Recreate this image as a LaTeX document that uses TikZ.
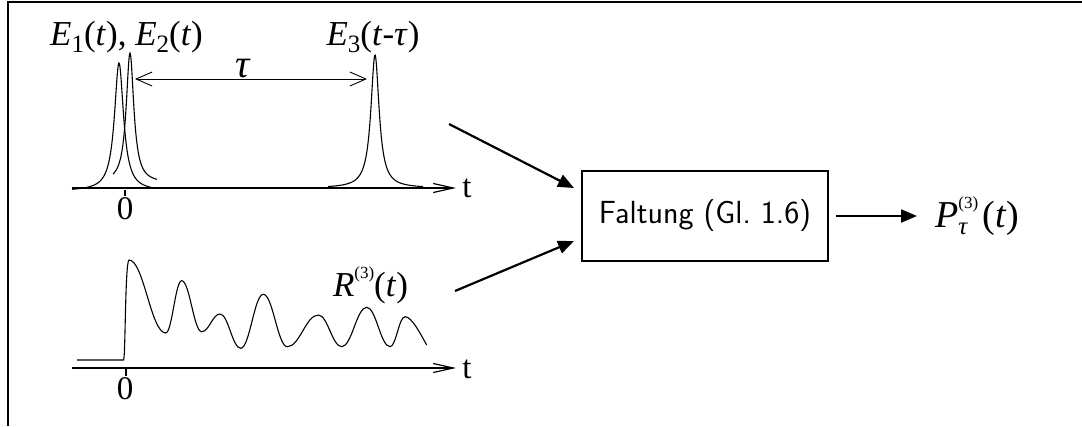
\documentclass[tikz,border=0pt]{standalone}
\usepackage{graphicx}
\usepackage{fontspec}
\newfontfamily\tms{Liberation Serif}
\usetikzlibrary{arrows.meta}
\newcommand{\mysub}[1]{\raisebox{-0.2em}{\fontsize{25}{25}\selectfont #1}}
\newcommand{\mysupr}[1]{\raisebox{0.5em}{\fontsize{17}{17}\selectfont #1}}
\newcommand{\lbl}[2][35]{{\fontsize{#1}{38}\tms #2}}
\tikzset{
  frame/.style={line width=1.8pt},
  axis/.style={line width=1.4pt,-{Straight Barb[length=20pt,width=9pt,line width=1.2pt]}},
  curve/.style={line width=1.1pt},
  tauarrow/.style={line width=0.9pt,{Straight Barb[length=16pt,width=14pt]}-{Straight Barb[length=16pt,width=14pt]}},
  conn/.style={line width=2.2pt,-{Triangle[length=16pt,width=13pt]}},
  lab/.style={inner sep=0pt,anchor=base},
  boxnode/.style={draw,line width=2pt,minimum width=246pt,minimum height=90pt,inner sep=0pt,
    font=\sffamily\fontsize{32}{36}\selectfont}
}
\begin{document}
\begin{tikzpicture}[x=1pt,y=-1pt]
\useasboundingbox (0,0) rectangle (1082,426);
% frame
\draw[frame] (8,426) -- (8,2) -- (1082,2);

% ---- top panel ----
\coordinate (ta0) at (72,188);
\coordinate (ta1) at (456,188);
\draw[axis] (ta0) -- (ta1);
\node[lab] (tt) at (467,197) {\lbl[33]{t}};
\draw[line width=1.2pt] (125,190) -- (125,196);
\node[lab] (z1) at (125,219) {\lbl[33]{0}};
% pulses (Lorentzian)
\draw[curve] plot[domain=72:153,samples=160,smooth] (\x,{191-128/(1+((\x-119)/5.5)^2)});
\draw[curve] plot[domain=113:157,samples=120,smooth] (\x,{183-130/(1+((\x-130)/4.6)^2)});
\draw[curve] plot[domain=328:423,samples=160,smooth] (\x,{188-133/(1+((\x-375)/5)^2)});
% tau
\coordinate (tl) at (135,79);
\coordinate (tr) at (367,79);
\draw[tauarrow] (tl) -- (tr);
\node[lab] (tau) at (243,77) {\lbl[40]{\textit{τ}}};
\node[lab] (e12) at (126.5,45) {\lbl{\textit{E}\mysub{1}(\textit{t}), \textit{E}\mysub{2}(\textit{t})}};
\node[lab] (e3) at (373,45) {\lbl{\textit{E}\mysub{3}(\textit{t}-\textit{τ})}};

% ---- bottom panel ----
\coordinate (ba0) at (72,368);
\coordinate (ba1) at (456,368);
\draw[axis] (ba0) -- (ba1);
\node[lab] (tb) at (467,378) {\lbl[33]{t}};
\draw[line width=1.2pt] (126,368) -- (126,376);
\node[lab] (z2) at (125,399) {\lbl[33]{0}};
\draw[curve] (77,360) -- (123.5,360) .. controls (125.5,360) and (125,262) .. (129,260)
  .. controls (143.7,260) and (151,333) .. (165.7,333)
  .. controls (172.1,333) and (175.3,280.7) .. (181.7,280.7)
  .. controls (189.7,280.7) and (193.7,331.7) .. (201.7,331.7)
  .. controls (209,331.7) and (212.7,314) .. (220,314)
  .. controls (228.3,314) and (232.4,348.3) .. (240.7,348.3)
  .. controls (249.7,348.3) and (254.3,294.3) .. (263.3,294.3)
  .. controls (272.9,294.3) and (277.7,346.7) .. (287.3,346.7)
  .. controls (299.7,346.7) and (305.9,315) .. (318.3,315)
  .. controls (327.7,315) and (332.3,346.7) .. (341.7,346.7)
  .. controls (351.7,346.7) and (356.7,307.3) .. (366.7,307.3)
  .. controls (376,307.3) and (380.7,346.7) .. (390,346.7)
  .. controls (396,346.7) and (399,316.7) .. (405,316.7)
  .. controls (412,316.7) and (421,335) .. (426.7,345);
\node[lab] (r3) at (370.5,296) {\lbl{\textit{R}\mysupr{(3)}(\textit{t})}};

% ---- box and output ----
\node[boxnode] (box) at (705,216) {Faltung (Gl.\ 1.6)};
\coordinate (u0) at (449,124);
\coordinate (u1) at (574,188);
\coordinate (l0) at (455,291);
\coordinate (l1) at (574,241);
\draw[conn] (u0) -- (u1);
\draw[conn] (l0) -- (l1);
\node[lab,anchor=base west] (P) at (935,227) {\lbl[38]{\textit{P}\makebox[0pt][l]{\mysupr{(3)}}\makebox[0pt][l]{\mysub{\textit{τ}}}\hspace{24pt}(\textit{t})}};
\draw[conn,shorten <=7pt,shorten >=18pt] (box.east) -- (box.east -| P.west);
\end{tikzpicture}
\end{document}
